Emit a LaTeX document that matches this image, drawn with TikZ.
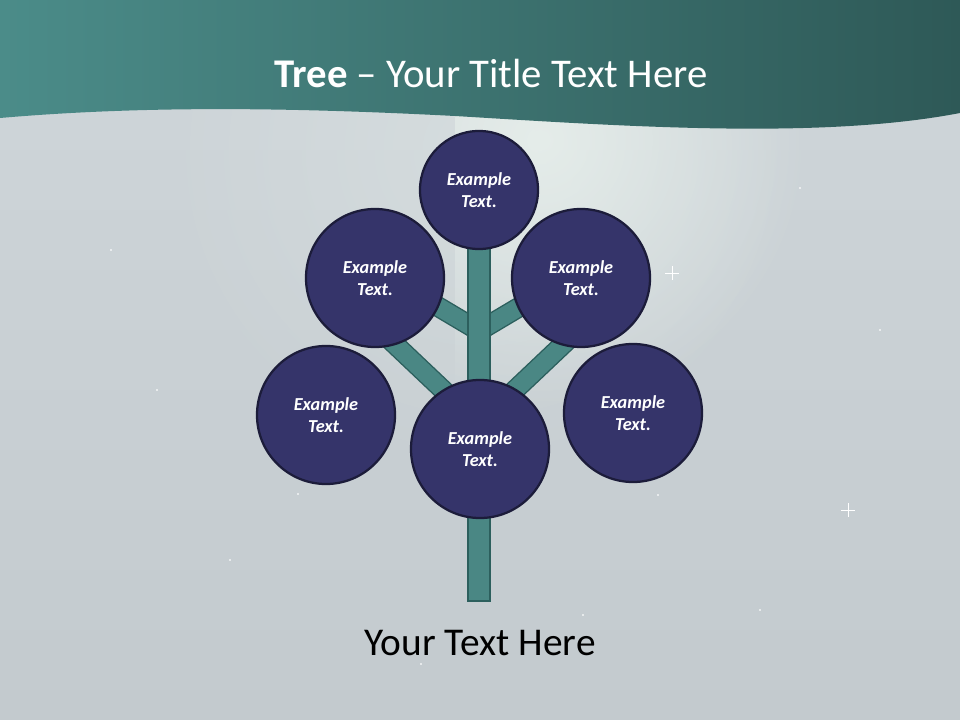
\documentclass[tikz,border=0pt]{standalone}
\usepackage{fontspec}
\setmainfont{Carlito}
\usetikzlibrary{fadings}

\definecolor{bgtop}{HTML}{CFD6DA}
\definecolor{bgbot}{HTML}{C3CACE}
\definecolor{beam}{HTML}{E8F0EC}
\definecolor{bandlight}{HTML}{4B8C89}
\definecolor{banddark}{HTML}{2E5957}
\definecolor{leaf}{HTML}{35346A}
\definecolor{leafline}{HTML}{1C1C3A}
\definecolor{wood}{HTML}{4A8784}
\definecolor{woodline}{HTML}{2C5F5D}

\tikzfading[name=glow, inner color=transparent!0, outer color=transparent!100]

\begin{document}
\begin{tikzpicture}[x=0.025cm, y=-0.025cm,
    leaf/.style={circle, draw=leafline, line width=1.6pt, fill=leaf, text=white,
      align=center, font=\fontsize{13}{16}\selectfont\bfseries\itshape},
    big/.style={minimum size=3.45cm},
    small/.style={minimum size=2.95cm},
    branch/.style={draw=woodline, line width=1pt, double=wood, double distance=12.6pt},
    star/.style={fill=white, opacity=.8}]
        \useasboundingbox (0,0) rectangle (960,720);
        \clip (0,0) rectangle (960,720);
        % backdrop
        \shade[top color=bgtop, bottom color=bgbot] (0,0) rectangle (960,720);
        \fill[beam, opacity=.3, path fading=glow] (480,150) circle (330);
        \begin{scope}
          \clip (455,100) rectangle (960,720);
          \fill[beam, opacity=.85, path fading=glow] (540,140) circle (270);
        \end{scope}
        \foreach \sx/\sy in {157/390, 298/494, 800/188, 658/495, 583/615, 421/664, 111/250, 880/330, 230/560, 760/610}
          \fill[star] (\sx,\sy) circle (1.2);
        \foreach \sx/\sy in {672/273, 848/510}
          \draw[white, line width=.5pt] (\sx-7,\sy) -- (\sx+7,\sy) (\sx,\sy-7) -- (\sx,\sy+7);

        % title band
        \shade[left color=bandlight, right color=banddark] (0,0) -- (960,0) -- (960,113)
          .. controls (820,140) and (620,126) .. (455,116)
          .. controls (300,108) and (150,105) .. (0,118) -- cycle;
        \node[anchor=base, text=white, font=\fontsize{29}{34}\selectfont] (title) at (491,88)
          {\textbf{Tree} -- Your Title Text Here};

        % trunk and branches
        \coordinate (fork1) at (479,331);
        \coordinate (fork2) at (479,424);
        \coordinate (tipUL) at (410,290);
        \coordinate (tipUR) at (548,290);
        \coordinate (tipLL) at (385,335);
        \coordinate (tipLR) at (573,335);
        \draw[branch] (fork1) -- (tipUL);
        \draw[branch] (fork1) -- (tipUR);
        \draw[branch] (fork2) -- (tipLL);
        \draw[branch] (fork2) -- (tipLR);
        \draw[draw=woodline, fill=wood, line width=1pt] (468,240) rectangle (490,601);

        % leaves
        \node[leaf, small] (top) at (479,190) {Example\\Text.};
        \node[leaf, big] (upl) at (375,278) {Example\\Text.};
        \node[leaf, big] (upr) at (581,278) {Example\\Text.};
        \node[leaf, big] (lowl) at (326,415) {Example\\Text.};
        \node[leaf, big] (lowr) at (633,413) {Example\\Text.};
        \node[leaf, big] (mid) at (480,449) {Example\\Text.};

        \node[anchor=base, font=\fontsize{28}{32}\selectfont] (caption) at (480,655) {Your Text Here};
      \end{tikzpicture}
\end{document}
